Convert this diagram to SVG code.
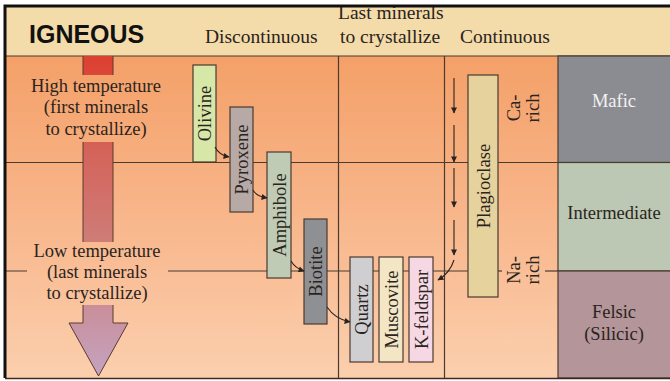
<svg xmlns="http://www.w3.org/2000/svg" width="670" height="381" viewBox="0 0 670 381">
<style>
.t{font-family:"Liberation Serif","Times New Roman",serif;font-size:18.5px;fill:#2a2420}
.h{font-size:19.5px}
.m{text-anchor:middle}
.ln{stroke:#4a3a30;stroke-width:1.2;fill:none}
.box{stroke:#4a3a30;stroke-width:1.2}
.c{stroke:#2a2420;stroke-width:1.1;fill:none;marker-end:url(#ah)}
</style>
<defs>
<linearGradient id="bg" gradientUnits="userSpaceOnUse" x1="0" y1="56" x2="0" y2="378">
<stop offset="0" stop-color="#F4A068"/>
<stop offset="0.5" stop-color="#F8B68B"/>
<stop offset="1" stop-color="#FBCFAE"/>
</linearGradient>
<linearGradient id="ar" gradientUnits="userSpaceOnUse" x1="0" y1="56" x2="0" y2="376">
<stop offset="0" stop-color="#DC3F30"/>
<stop offset="0.08" stop-color="#DA4A3C"/>
<stop offset="0.3" stop-color="#D4645A"/>
<stop offset="0.6" stop-color="#CE7E7A"/>
<stop offset="1" stop-color="#C4A3C0"/>
</linearGradient>
<marker id="ah" viewBox="0 0 10 10" refX="9" refY="5" markerWidth="7" markerHeight="6" markerUnits="userSpaceOnUse" orient="auto">
<path d="M0,0 L10,5 L0,10 Z" fill="#2a2420"/>
</marker>
</defs>
<!-- background -->
<rect x="5" y="6" width="665" height="50" fill="#F4DBAA"/>
<rect x="5" y="56" width="553" height="322" fill="url(#bg)"/>
<!-- grid lines -->
<g id="grid">
<line class="ln" x1="5" y1="56" x2="670" y2="56"/>
<line class="ln" x1="5" y1="162.5" x2="558" y2="162.5"/>
<line class="ln" x1="5" y1="271" x2="468" y2="271"/>
<line class="ln" x1="498" y1="271" x2="502" y2="271"/>
<line class="ln" x1="545" y1="271" x2="558" y2="271"/>
<line class="ln" x1="338.5" y1="56" x2="338.5" y2="378"/>
<line class="ln" x1="444.5" y1="56" x2="444.5" y2="378"/>
</g>
<!-- temperature arrow -->
<g id="temp-arrow">
<path d="M83,56 L83,323 L69,323 L98.5,376 L128,323 L113,323 L113,56" fill="url(#ar)" stroke="#5a3a30" stroke-width="1"/>
</g>
<g id="high-temp">
<rect x="24" y="75" width="146" height="67" fill="url(#bg)"/>
<text class="t m" x="96" y="92">High temperature</text>
<text class="t m" x="96" y="113">(first minerals</text>
<text class="t m" x="96" y="135">to crystallize)</text>
</g>
<g id="low-temp">
<rect x="27" y="242" width="141" height="63" fill="url(#bg)"/>
<text class="t m" x="97" y="257">Low temperature</text>
<text class="t m" x="97" y="278">(last minerals</text>
<text class="t m" x="97" y="299">to crystallize)</text>
</g>
<!-- header -->
<g id="header">
<text x="29" y="43" style="font-family:'Liberation Sans',Arial,sans-serif;font-weight:bold;font-size:25px;fill:#111">IGNEOUS</text>
<text class="t h" x="205" y="43">Discontinuous</text>
<text class="t h" x="338" y="19">Last minerals</text>
<text class="t h" x="340" y="43">to crystallize</text>
<text class="t h" x="460" y="43">Continuous</text>
</g>
<!-- right panels -->
<g id="mafic">
<rect class="box" x="558" y="56" width="113" height="106.5" fill="#8B8C91"/>
<text class="t m" x="614" y="107" style="fill:#F2F2F2">Mafic</text>
</g>
<g id="intermediate">
<rect class="box" x="558" y="162.5" width="113" height="108.5" fill="#BCC8B4"/>
<text class="t m" x="614" y="219">Intermediate</text>
</g>
<g id="felsic">
<rect class="box" x="558" y="271" width="113" height="107" fill="#B4959A"/>
<text class="t m" x="614" y="318">Felsic</text>
<text class="t m" x="614" y="340">(Silicic)</text>
</g>
<!-- minerals -->
<g id="olivine">
<rect class="box" x="193" y="65" width="23" height="97" fill="#D6E7A8"/>
<text class="t m" transform="translate(205,113.5) rotate(-90)" dominant-baseline="central">Olivine</text>
</g>
<g id="pyroxene">
<rect class="box" x="230" y="107" width="23" height="105" fill="#B7A9A6"/>
<text class="t m" transform="translate(242,159.5) rotate(-90)" dominant-baseline="central">Pyroxene</text>
</g>
<g id="amphibole">
<rect class="box" x="267" y="152" width="24" height="126" fill="#BFCBB5"/>
<text class="t m" transform="translate(279.5,215) rotate(-90)" dominant-baseline="central">Amphibole</text>
</g>
<g id="biotite">
<rect class="box" x="304" y="219" width="23" height="105" fill="#8F9094"/>
<text class="t m" transform="translate(316,271.5) rotate(-90)" dominant-baseline="central">Biotite</text>
</g>
<g id="quartz">
<rect class="box" x="350" y="257" width="23" height="105" fill="#CFCFD2"/>
<text class="t m" transform="translate(362,309.5) rotate(-90)" dominant-baseline="central">Quartz</text>
</g>
<g id="muscovite">
<rect class="box" x="379" y="257" width="24" height="105" fill="#F3E6C4"/>
<text class="t m" transform="translate(391.5,309.5) rotate(-90)" dominant-baseline="central">Muscovite</text>
</g>
<g id="kfeldspar">
<rect class="box" x="409" y="257" width="24" height="105" fill="#F6D8E5"/>
<text class="t m" transform="translate(421.5,309.5) rotate(-90)" dominant-baseline="central">K-feldspar</text>
</g>
<g id="plagioclase">
<rect class="box" x="468" y="75" width="30" height="222" fill="#E6D29C"/>
<text class="t m" transform="translate(483.5,186) rotate(-90)" dominant-baseline="central">Plagioclase</text>
</g>
<g id="ca-rich">
<text class="t m" transform="translate(520,108) rotate(-90)">Ca-</text>
<text class="t m" transform="translate(539,108) rotate(-90)">rich</text>
</g>
<g id="na-rich">
<text class="t m" transform="translate(520,270) rotate(-90)">Na-</text>
<text class="t m" transform="translate(539,270) rotate(-90)">rich</text>
</g>
<!-- connectors -->
<g id="connectors">
<path class="c" d="M215,147 Q219,155 229,157"/>
<path class="c" d="M253,190 Q256,196 267,198"/>
<path class="c" d="M291,261 Q295,268 304,271"/>
<path class="c" d="M327,307 Q335,319 350,322"/>
<path class="c" d="M454,78 L454,113"/>
<path class="c" d="M454,125 L454,162"/>
<path class="c" d="M454,168 L454,207"/>
<path class="c" d="M454,220 L454,255"/>
<path class="c" d="M454,260 Q450,273 438,280"/>
</g>
<!-- border -->
<path d="M5,378 L5,6 L670,6" fill="none" stroke="#111" stroke-width="3"/>
<line x1="5" y1="378.5" x2="670" y2="378.5" stroke="#3a2a20" stroke-width="1.5"/>
</svg>
